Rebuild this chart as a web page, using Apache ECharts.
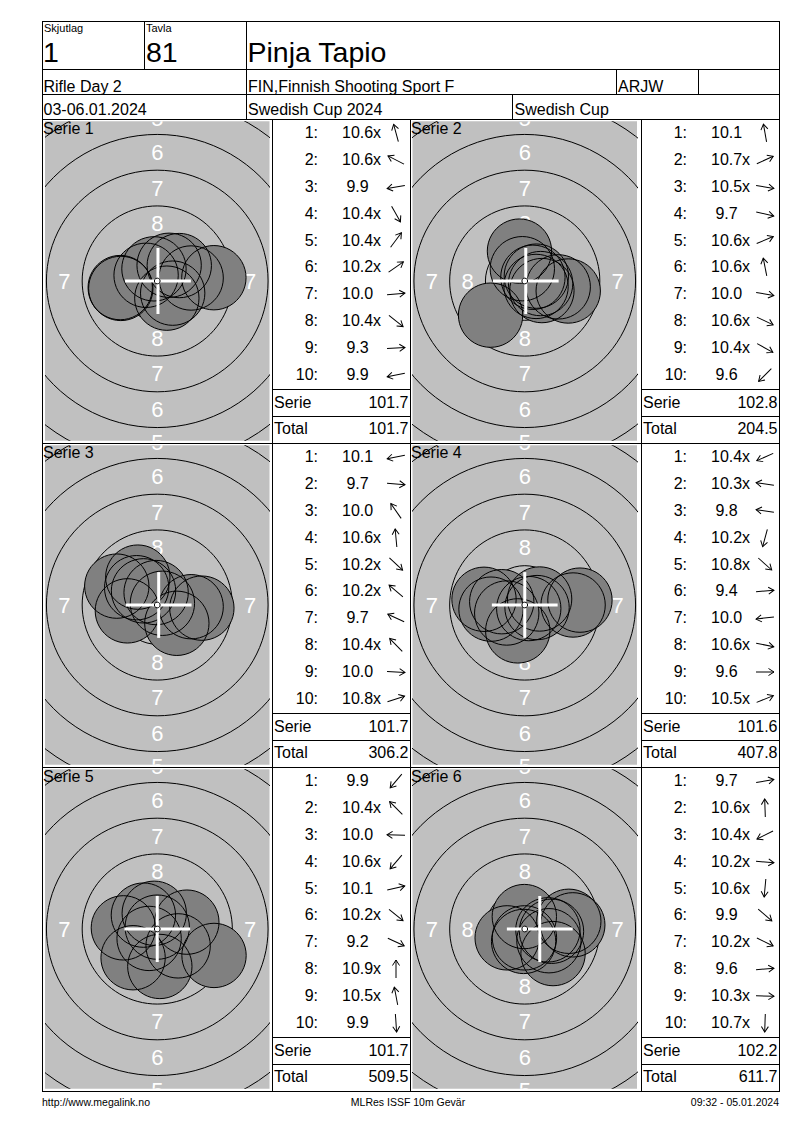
<!DOCTYPE html>
<html><head><meta charset="utf-8">
<script src="https://cdn.jsdelivr.net/npm/echarts@6/dist/echarts.min.js"></script>
<style>
html,body{margin:0;padding:0;background:#fff;}
#page{position:relative;width:800px;height:1130px;overflow:hidden;font-family:Arial,"Liberation Sans",Helvetica,sans-serif;color:#000;}
#chart{position:absolute;left:0;top:0;width:800px;height:1130px;}
#overlay{position:absolute;left:0;top:0;width:800px;height:1130px;}
.t{position:absolute;white-space:pre;line-height:1;}
.hl{position:absolute;height:1px;background:#000;}
.vl{position:absolute;width:1px;background:#000;}
.num{display:inline-block;width:31px;text-align:center;}
.arr{position:absolute;width:22px;height:22px;overflow:visible;}
</style></head><body>
<div id="page"><div id="chart"></div><div id="overlay"></div></div>
<script>
// ---------- header ----------
const shootingGroup = '1';
const targetNo = '81';
const shooterName = 'Pinja Tapio';
const eventName = 'Rifle Day 2';
const clubName = 'FIN,Finnish Shooting Sport F';
const classCode = 'ARJW';
const dates = '03-06.01.2024';
const competition = 'Swedish Cup 2024';
const cupName = 'Swedish Cup';
const footerLeft = 'http://www.megalink.no';
const footerMid = 'MLRes ISSF 10m Gevär';
const footerRight = '09:32 - 05.01.2024';

// ---------- series scores ----------
const scores1 = ['10.6x','10.6x','9.9','10.4x','10.4x','10.2x','10.0','10.4x','9.3','9.9'];
const scores2 = ['10.1','10.7x','10.5x','9.7','10.6x','10.6x','10.0','10.6x','10.4x','9.6'];
const scores3 = ['10.1','9.7','10.0','10.6x','10.2x','10.2x','9.7','10.4x','10.0','10.8x'];
const scores4 = ['10.4x','10.3x','9.8','10.2x','10.8x','9.4','10.0','10.6x','9.6','10.5x'];
const scores5 = ['9.9','10.4x','10.0','10.6x','10.1','10.2x','9.2','10.9x','10.5x','9.9'];
const scores6 = ['9.7','10.6x','10.4x','10.2x','10.6x','9.9','10.2x','9.6','10.3x','10.7x'];

// ---------- shot positions (mm from centre, y up) ----------
const shotX1 = [-0.23,-0.78,-2.59, 0.67, 0.83, 1.54, 2.37, 1.08, 3.96,-2.55];
const shotY1 = [ 0.85, 0.40,-0.46,-1.20, 1.10, 1.08, 0.21,-0.85, 0.23,-0.52];
const shotX2 = [-0.37, 0.57, 1.11, 3.04, 0.81,-0.17, 2.34, 0.79, 1.20,-2.39];
const shotY2 = [ 2.09, 0.26,-0.18,-0.70, 0.34, 0.86,-0.41,-0.38,-0.67,-2.39];
const shotX3 = [-2.09, 3.12,-1.36,-0.08, 1.37,-1.44,-2.83,-0.96, 2.37, 0.36];
const shotY3 = [-0.41,-0.22, 1.95, 0.87,-1.28, 1.21, 1.32, 0.99,-0.12, 0.12];
const shotX4 = [-1.26,-1.61,-2.85,-0.49, 0.28, 3.86,-2.36, 0.86, 3.38, 1.04];
const shotY4 = [-0.56, 0.23, 0.40,-1.81,-0.25, 0.34,-0.29,-0.18, 0.00, 0.42];
const shotX5 = [-1.69,-0.97,-2.37,-0.57, 2.07, 1.46, 3.97, 0.00,-0.21, 0.18];
const shotY5 = [-2.01, 0.97, 0.08,-0.66, 0.48,-1.18,-1.85, 0.13, 1.10,-2.62];
const shotX6 = [ 3.08,-0.03,-1.23, 1.87,-0.08, 1.98, 1.69, 3.36, 1.62,-0.02];
const shotY6 = [ 0.54, 0.87,-0.62,-0.16,-0.87,-1.72,-0.82, 0.29,-0.06,-0.62];

// ---------- totals ----------
const serieSums = ['101.7','102.8','101.7','101.6','101.7','102.2'];
const runningTotals = ['101.7','204.5','306.2','407.8','509.5','611.7'];

// ---------- aiming cross position per series (mm) ----------
const crossX = [0.05, 0.07, 0.10, 0.00, 0.00, 1.05];
const crossY = [0.00, 0.00, 0.00, 0.00, 0.00, 0.00];

// ---------- target geometry (ISSF 10m air rifle, mm) ----------
const ringRadii = [2.75, 5.25, 7.75, 10.25, 12.75, 15.25];
const ringLabelText = ['5','6','7','8','8','7','6','5','7','8','8','7'];
const ringLabelX = [0,0,0,0,0,0,0,0,-6.5,-4,4,6.5];
const ringLabelY = [11.4,9,6.5,4,-4,-6.5,-9,-11.3,0,0,0,0];
const pelletRadius = 2.25;
const centreRadius = 0.2;
const crossArm = 2.3;

const allScores = [scores1,scores2,scores3,scores4,scores5,scores6];
const allX = [shotX1,shotX2,shotX3,shotX4,shotX5,shotX6];
const allY = [shotY1,shotY2,shotY3,shotY4,shotY5,shotY6];

// ================= overlay (table, text) =================
const ov = document.getElementById('overlay');
const SVGNS='http://www.w3.org/2000/svg';
function hl(x1,x2,y){const d=document.createElement('div');d.className='hl';d.style.left=x1+'px';d.style.top=y+'px';d.style.width=(x2-x1+1)+'px';ov.appendChild(d);}
function vl(x,y1,y2){const d=document.createElement('div');d.className='vl';d.style.left=x+'px';d.style.top=y1+'px';d.style.height=(y2-y1+1)+'px';ov.appendChild(d);}
function txt(s,x,top,size,align){const d=document.createElement('div');d.className='t';d.textContent=s;d.style.left=x+'px';d.style.top=top+'px';d.style.fontSize=size+'px';
  if(align==='right')d.style.transform='translateX(-100%)';else if(align==='center')d.style.transform='translateX(-50%)';ov.appendChild(d);return d;}
function arrow(cx,cy,deg){
  const s=document.createElementNS(SVGNS,'svg');s.setAttribute('class','arr');s.setAttribute('width','22');s.setAttribute('height','22');
  s.style.left=(cx-11)+'px';s.style.top=(cy-11)+'px';
  const g=document.createElementNS(SVGNS,'g');g.setAttribute('transform','rotate('+(-deg).toFixed(1)+' 11 11)');
  g.setAttribute('fill','none');g.setAttribute('stroke','#000');g.setAttribute('stroke-width','1');
  const l=document.createElementNS(SVGNS,'line');l.setAttribute('x1','2');l.setAttribute('y1','11');l.setAttribute('x2','20');l.setAttribute('y2','11');
  const h=document.createElementNS(SVGNS,'polyline');h.setAttribute('points','14.5,7.5 20,11 14.5,14.5');
  g.appendChild(l);g.appendChild(h);s.appendChild(g);ov.appendChild(s);
}

const L=42,R=779;
hl(L,R,21);hl(L,R,69);hl(L,R,94);hl(L,R,119);
vl(L,21,1091);vl(R,21,1091);
vl(144,21,69);vl(246,21,119);vl(616,69,94);vl(698,69,94);vl(512,94,119);
txt('Skjutlag',44,22.7,11);
txt('Tavla',146,22.7,11);
txt(shootingGroup,43,37.8,28.5);
txt(targetNo,146,37.8,28.5);
txt(shooterName,247.5,37.8,28.5);
txt(eventName,43.5,78.5,16);
txt(clubName,248,78.5,16);
txt(classCode,618,78.5,16);
txt(dates,43.5,101.5,16);
txt(competition,248,101.5,16);
txt(cupName,514.5,101.5,16);
txt(footerLeft,42,1097,10.5);
txt(footerMid,408,1097,10.5,'center');
txt(footerRight,779,1097,10.5,'right');

for(let i=0;i<6;i++){
  const r=Math.floor(i/2), c=i%2;
  const T=119+324*r;
  const cellL=c?410:42;
  const listL=c?641:272;
  hl(L,R,T+324);
  vl(listL,T,T+324);
  if(c===1) vl(410,T,T+324);
  hl(listL,c?R:410,T+270);
  hl(listL,c?R:410,T+297);
  txt('Serie '+(i+1),cellL+1,T+2.2,16);
  const sc=allScores[i];
  for(let k=0;k<10;k++){
    const top=T+6.2+26.85*k;
    txt((k+1)+':',listL+46,top,16,'right');
    const d=document.createElement('div');d.className='t';d.style.left=(listL+70)+'px';d.style.top=top+'px';d.style.fontSize='16px';
    const x=sc[k].endsWith('x');
    const sp=document.createElement('span');sp.className='num';sp.textContent=x?sc[k].slice(0,-1):sc[k];d.appendChild(sp);
    if(x)d.appendChild(document.createTextNode('x'));
    ov.appendChild(d);
    const ang=Math.atan2(allY[i][k],allX[i][k])*180/Math.PI;
    arrow(listL+123.5, T+14+26.85*k, ang);
  }
  txt('Serie',listL+2,T+276.2,16);
  txt(serieSums[i],listL+136.5,T+276.2,16,'right');
  txt('Total',listL+2,T+302.2,16);
  txt(runningTotals[i],listL+136.5,T+302.2,16,'right');
}

// ================= targets (ECharts) =================
const chart = echarts.init(document.getElementById('chart'), null, {renderer:'svg', width:800, height:1130});
const GW=224.5, GH=319.4, XH=7.85, YH=11.17;
const grids=[], xAxes=[], yAxes=[], series=[];
for(let i=0;i<6;i++){
  const r=Math.floor(i/2), c=i%2;
  grids.push({left:c?412.5:45, top:121.3+324*r, width:GW, height:GH, show:true, backgroundColor:'#c0c0c0', borderWidth:0, containLabel:false});
  xAxes.push({type:'value', gridIndex:i, min:-XH, max:XH, show:false});
  yAxes.push({type:'value', gridIndex:i, min:-YH, max:YH, show:false});
  const base={type:'custom', xAxisIndex:i, yAxisIndex:i, clip:true, silent:true, animation:false};
  series.push(Object.assign({}, base, {
    data: ringRadii.map(v=>[0,0,v]),
    renderItem:(p,api)=>{const o=api.coord([0,0]);const rr=api.size([api.value(2),0])[0];
      return {type:'circle', shape:{cx:o[0],cy:o[1],r:rr}, style:{fill:'none',stroke:'#000',lineWidth:1}};}
  }));
  series.push(Object.assign({}, base, {
    data: ringLabelX.map((v,k)=>[v,ringLabelY[k]]),
    renderItem:(p,api)=>{const o=api.coord([api.value(0),api.value(1)]);
      return {type:'text', x:o[0], y:o[1], style:{text:ringLabelText[p.dataIndex], fill:'#ffffff', font:'22px Arial, "Liberation Sans", sans-serif', align:'center', verticalAlign:'middle', textAlign:'center', textVerticalAlign:'middle'}};}
  }));
  const pts=allX[i].map((v,k)=>[v,allY[i][k]]);
  series.push(Object.assign({}, base, {
    data: pts,
    renderItem:(p,api)=>{const o=api.coord([api.value(0),api.value(1)]);const rr=api.size([pelletRadius,0])[0];
      return {type:'circle', shape:{cx:o[0],cy:o[1],r:rr}, style:{fill:'#808080',stroke:null,lineWidth:0}};}
  }));
  series.push(Object.assign({}, base, {
    data: pts,
    renderItem:(p,api)=>{const o=api.coord([api.value(0),api.value(1)]);const rr=api.size([pelletRadius,0])[0];
      return {type:'circle', shape:{cx:o[0],cy:o[1],r:rr}, style:{fill:'none',stroke:'#000',lineWidth:1}};}
  }));
  series.push(Object.assign({}, base, {
    data: [[crossX[i],crossY[i]]],
    renderItem:(p,api)=>{const o=api.coord([api.value(0),api.value(1)]);const h=api.size([crossArm,crossArm]);
      return {type:'group', children:[
        {type:'line', shape:{x1:o[0]-h[0],y1:o[1],x2:o[0]+h[0],y2:o[1]}, style:{stroke:'#fff',lineWidth:3}},
        {type:'line', shape:{x1:o[0],y1:o[1]-h[1],x2:o[0],y2:o[1]+h[1]}, style:{stroke:'#fff',lineWidth:3}}
      ]};}
  }));
  series.push(Object.assign({}, base, {
    data: [[0,0]],
    renderItem:(p,api)=>{const o=api.coord([0,0]);const rr=api.size([centreRadius,0])[0];
      return {type:'circle', shape:{cx:o[0],cy:o[1],r:rr}, style:{fill:'#fff',stroke:'#000',lineWidth:1}};}
  }));
}
chart.setOption({animation:false, grid:grids, xAxis:xAxes, yAxis:yAxes, series:series});
</script>
</body></html>
